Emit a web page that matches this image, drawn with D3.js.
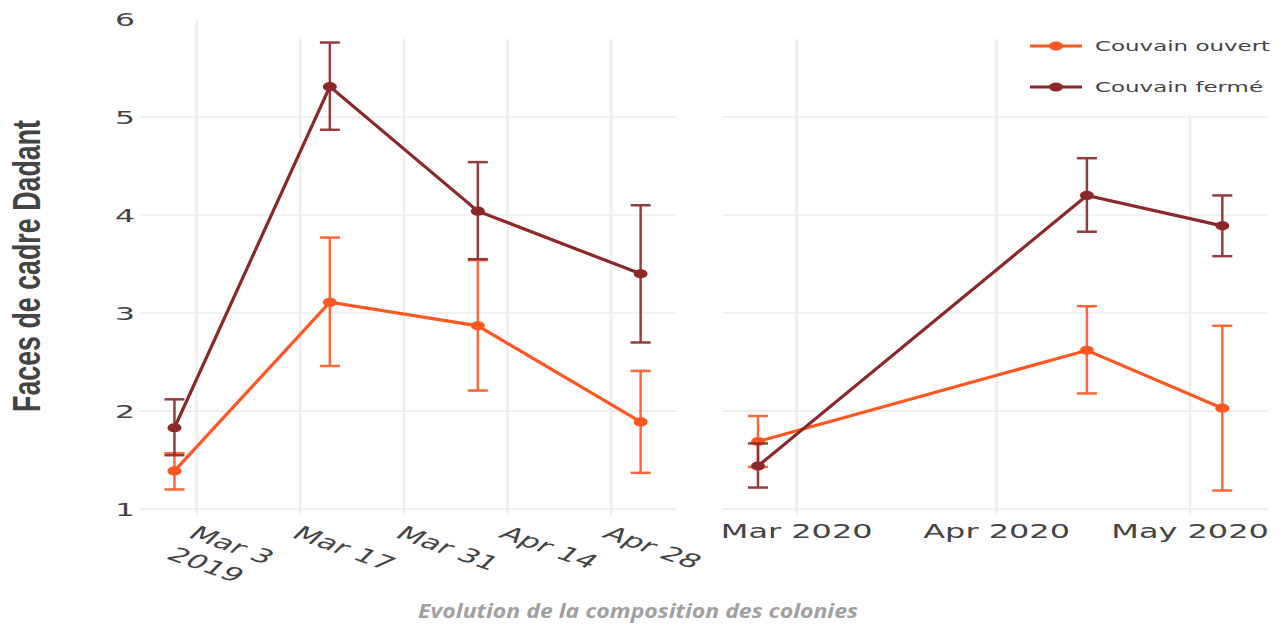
<!DOCTYPE html>
<html>
<head>
<meta charset="utf-8">
<script src="https://cdn.jsdelivr.net/npm/d3@7"></script>
<style>
  html, body { margin: 0; padding: 0; background: #fff; }
  svg { display: block; }
</style>
</head>
<body>
<svg id="chart" width="1285" height="628"></svg>
<script>
// Data
const dates2019 = ["2019-02-28", "2019-03-21", "2019-04-10", "2019-05-02"]
const ouvert2019 = [1.39, 3.11, 2.87, 1.89]
const ouvert2019Lo = [1.20, 2.46, 2.21, 1.37]
const ouvert2019Hi = [1.57, 3.77, 3.54, 2.41]
const ferme2019 = [1.83, 5.31, 4.04, 3.40]
const ferme2019Lo = [1.55, 4.87, 3.55, 2.70]
const ferme2019Hi = [2.12, 5.76, 4.54, 4.10]

const dates2020 = ["2020-02-24", "2020-04-15", "2020-05-06"]
const ouvert2020 = [1.69, 2.62, 2.03]
const ouvert2020Lo = [1.43, 2.18, 1.19]
const ouvert2020Hi = [1.95, 3.07, 2.87]
const ferme2020 = [1.44, 4.20, 3.89]
const ferme2020Lo = [1.22, 3.83, 3.58]
const ferme2020Hi = [1.67, 4.58, 4.20]

const ticks2019 = ["2019-03-03", "2019-03-17", "2019-03-31", "2019-04-14", "2019-04-28"]
const tickLabels2019 = ["Mar 3\n2019", "Mar 17", "Mar 31", "Apr 14", "Apr 28"]
const ticks2020 = ["2020-03-01", "2020-04-01", "2020-05-01"]
const tickLabels2020 = ["Mar 2020", "Apr 2020", "May 2020"]
const yTicks = [1, 2, 3, 4, 5, 6]

const seriesNames = ["Couvain ouvert", "Couvain fermé"]
const seriesColors = ["#ff5722", "#8c2828"]

const SX = 1.7 // the reference is stretched horizontally
const tickFont = "DejaVu Sans, Verdana, sans-serif"
const parse = d3.timeParse("%Y-%m-%d")

const svg = d3.select("#chart")

const y = d3.scaleLinear().domain([0.94, 6]).range([515, 19])
const xL = d3.scaleTime()
  .domain([new Date(2019, 1, 23, 5), new Date(2019, 4, 6, 22)])
  .range([139, 677])
const xR = d3.scaleTime()
  .domain([new Date(2020, 1, 18, 10), new Date(2020, 4, 13, 2)])
  .range([722, 1268])

// Grid
function drawGrid(x, ticks) {
  const g = svg.append("g").attr("class", "grid")
  g.selectAll(".h").data(yTicks.filter(d => d < 6)).enter().append("line")
    .attr("x1", x.range()[0]).attr("x2", x.range()[1])
    .attr("y1", d => y(d)).attr("y2", d => y(d))
    .style("stroke", "#eeeeee").style("stroke-width", 1.6)
  g.selectAll(".v").data(ticks).enter().append("line")
    .attr("x1", d => x(parse(d))).attr("x2", d => x(parse(d)))
    .attr("y1", y(6)).attr("y2", y.range()[0])
    .style("stroke", "#eeeeee").style("stroke-width", 2.4)
}
drawGrid(xL, ticks2019)
drawGrid(xR, ticks2020)

// white band at the top, as in the reference
svg.append("rect").attr("x", 250).attr("y", 0).attr("width", 1035).attr("height", 39).attr("fill", "#fff")

// Series
function drawSeries(x, dates, vals, lo, hi, color) {
  const pts = dates.map((d, i) => ({ x: x(parse(d)), v: vals[i], lo: lo[i], hi: hi[i] }))
  const g = svg.append("g")
  const eb = g.append("g").style("stroke", color).style("stroke-width", 2.5).style("opacity", 0.9)
  pts.forEach(p => {
    eb.append("line").attr("x1", p.x).attr("x2", p.x).attr("y1", y(p.lo)).attr("y2", y(p.hi))
    eb.append("line").attr("x1", p.x - 10).attr("x2", p.x + 10).attr("y1", y(p.lo)).attr("y2", y(p.lo))
    eb.append("line").attr("x1", p.x - 10).attr("x2", p.x + 10).attr("y1", y(p.hi)).attr("y2", y(p.hi))
  })
  g.append("path")
    .attr("d", d3.line().x(p => p.x).y(p => y(p.v))(pts))
    .attr("fill", "none").style("stroke", color).style("stroke-width", 3.2)
  g.selectAll("ellipse").data(pts).enter().append("ellipse")
    .attr("cx", p => p.x).attr("cy", p => y(p.v))
    .attr("rx", 7).attr("ry", 4.6).attr("fill", color)
}
drawSeries(xL, dates2019, ouvert2019, ouvert2019Lo, ouvert2019Hi, seriesColors[0])
drawSeries(xL, dates2019, ferme2019, ferme2019Lo, ferme2019Hi, seriesColors[1])
drawSeries(xR, dates2020, ouvert2020, ouvert2020Lo, ouvert2020Hi, seriesColors[0])
drawSeries(xR, dates2020, ferme2020, ferme2020Lo, ferme2020Hi, seriesColors[1])

// Y tick labels
svg.append("g").selectAll("text").data(yTicks).enter().append("text")
  .attr("transform", d => `translate(135, ${y(d)}) scale(${SX},1)`)
  .attr("text-anchor", "end").attr("dy", "0.36em")
  .style("font-family", tickFont).style("font-size", "18.5px").style("fill", "#444")
  .text(d => d)

// Left x tick labels (rotated)
const lt = svg.append("g").selectAll("text").data(ticks2019).enter().append("text")
  .attr("transform", d => `translate(${xL(parse(d)) - 4}, 531) scale(${SX},1) rotate(31)`)
  .attr("text-anchor", "start")
  .style("font-family", tickFont).style("font-size", "19px").style("fill", "#444")
lt.each(function(d, i) {
  const lines = tickLabels2019[i].split("\n")
  d3.select(this).selectAll("tspan").data(lines).enter().append("tspan")
    .attr("x", 0).attr("dy", (l, j) => j === 0 ? "0.36em" : "1.3em")
    .text(l => l)
})

// Right x tick labels
svg.append("g").selectAll("text").data(ticks2020).enter().append("text")
  .attr("transform", d => `translate(${xR(parse(d))}, 538) scale(${SX},1)`)
  .attr("text-anchor", "middle")
  .style("font-family", tickFont).style("font-size", "18.8px").style("fill", "#444")
  .text((d, i) => tickLabels2020[i])

// Legend
svg.append("rect").attr("x", 1018).attr("y", 20).attr("width", 267).attr("height", 95).attr("fill", "#fff")
const lg = svg.append("g").selectAll("g").data(seriesNames).enter().append("g")
  .attr("transform", (d, i) => `translate(1030, ${46 + i * 41})`)
lg.append("line").attr("x1", 0).attr("x2", 52).attr("y1", 0).attr("y2", 0)
  .style("stroke", (d, i) => seriesColors[i]).style("stroke-width", 3)
lg.append("ellipse").attr("cx", 26).attr("cy", 0).attr("rx", 7).attr("ry", 4.6)
  .attr("fill", (d, i) => seriesColors[i])
lg.append("text")
  .attr("transform", `translate(65, 0) scale(${SX},1)`)
  .attr("dy", "0.36em")
  .style("font-family", tickFont).style("font-size", "13.5px").style("fill", "#444")
  .text(d => d)

// Y axis title, squeezed to the condensed look of the reference
const yTitle = svg.append("text")
  .attr("text-anchor", "middle")
  .style("font-family", "Liberation Sans Narrow, Liberation Sans, Arial, sans-serif")
  .style("font-size", "38px").style("font-weight", "bold").style("fill", "#444")
  .text("Faces de cadre Dadant")
const titleLen = yTitle.node().getComputedTextLength()
yTitle.attr("transform", `translate(40, 266) rotate(-90) scale(${292 / titleLen}, 1)`)

// Caption
const caption = svg.append("text")
  .attr("text-anchor", "middle")
  .style("font-family", "Open Sans, Lato, sans-serif")
  .style("font-size", "20px").style("font-weight", "bold").style("font-style", "italic")
  .style("fill", "#a0a0a0")
  .text("Evolution de la composition des colonies")
const capLen = caption.node().getComputedTextLength()
caption.attr("transform", `translate(638, 618) scale(${440 / capLen}, 1)`)
</script>
</body>
</html>
